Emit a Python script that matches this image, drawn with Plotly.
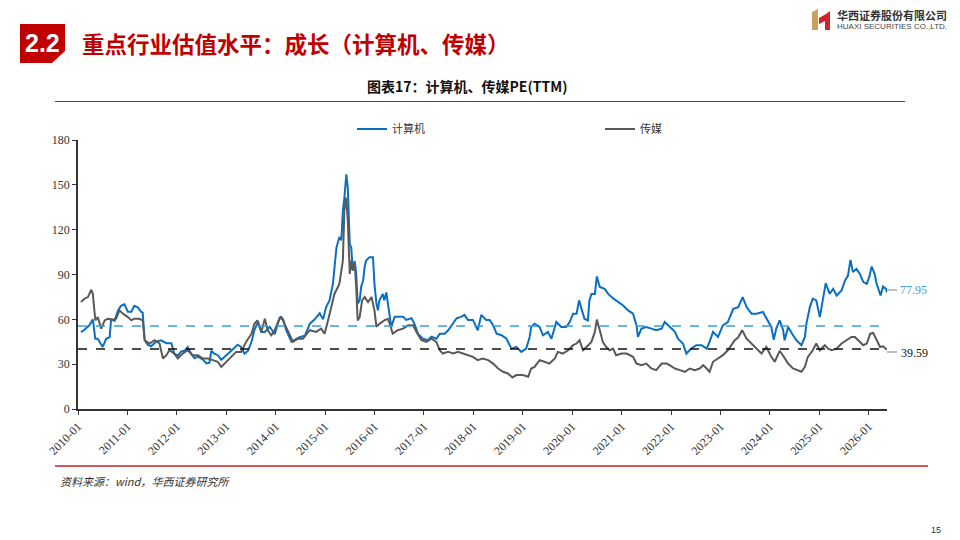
import datetime as dt
import plotly.graph_objects as go

# ---------------- data ----------------
# time as decimal years
comp_t = [2010.06, 2010.13, 2010.23, 2010.30, 2010.35, 2010.40, 2010.50, 2010.57, 2010.64, 2010.67,
          2010.74, 2010.81, 2010.87, 2010.94, 2011.01, 2011.08, 2011.14, 2011.21, 2011.28, 2011.31,
          2011.35, 2011.41, 2011.48, 2011.58, 2011.68, 2011.79, 2011.89, 2011.95, 2012.02, 2012.09,
          2012.16, 2012.22, 2012.29, 2012.36, 2012.43, 2012.53, 2012.60, 2012.66, 2012.70, 2012.76,
          2012.83, 2012.90, 2012.97, 2013.03, 2013.10, 2013.17, 2013.23, 2013.30, 2013.37, 2013.44,
          2013.51, 2013.57, 2013.64, 2013.71, 2013.78, 2013.88, 2013.98, 2014.08, 2014.15, 2014.21,
          2014.32, 2014.42, 2014.48, 2014.59, 2014.69, 2014.79, 2014.89, 2014.96, 2015.02, 2015.09,
          2015.16, 2015.23, 2015.26, 2015.29, 2015.33, 2015.36, 2015.39, 2015.43, 2015.46, 2015.50,
          2015.53, 2015.56, 2015.60, 2015.63, 2015.66, 2015.70, 2015.73, 2015.77, 2015.80, 2015.83,
          2015.90, 2015.97, 2016.00, 2016.04, 2016.07, 2016.10, 2016.17, 2016.20, 2016.24, 2016.27,
          2016.31, 2016.34, 2016.41, 2016.47, 2016.58, 2016.64, 2016.75, 2016.81, 2016.88, 2016.98,
          2017.08, 2017.15, 2017.25, 2017.32, 2017.42, 2017.49, 2017.59, 2017.66, 2017.76, 2017.82,
          2017.89, 2017.99, 2018.09, 2018.16, 2018.26, 2018.33, 2018.40, 2018.47, 2018.57, 2018.67,
          2018.77, 2018.87, 2018.97, 2019.07, 2019.14, 2019.17, 2019.24, 2019.34, 2019.41, 2019.51,
          2019.58, 2019.68, 2019.78, 2019.88, 2019.95, 2020.02, 2020.09, 2020.14, 2020.19, 2020.25,
          2020.32, 2020.35, 2020.39, 2020.46, 2020.50, 2020.56, 2020.66, 2020.73, 2020.83, 2020.93,
          2021.03, 2021.13, 2021.23, 2021.30, 2021.33, 2021.40, 2021.50, 2021.60, 2021.70, 2021.81,
          2021.87, 2021.94, 2022.01, 2022.08, 2022.14, 2022.24, 2022.31, 2022.41, 2022.51, 2022.62,
          2022.72, 2022.78, 2022.85, 2022.95, 2023.05, 2023.15, 2023.26, 2023.36, 2023.45, 2023.53,
          2023.63, 2023.73, 2023.86, 2023.96, 2024.03, 2024.08, 2024.13, 2024.20, 2024.27, 2024.30,
          2024.37, 2024.47, 2024.54, 2024.64, 2024.71, 2024.74, 2024.81, 2024.87, 2024.94, 2025.01,
          2025.08, 2025.13, 2025.21, 2025.28, 2025.35, 2025.45, 2025.52, 2025.58, 2025.63, 2025.68,
          2025.75, 2025.82, 2025.89, 2025.96, 2026.01, 2026.06, 2026.12, 2026.16, 2026.24, 2026.29,
          2026.35, 2026.37]
comp_pe = [51.5, 53, 56, 60, 47, 47, 41.5, 47, 48, 60,
           59, 66, 69, 70, 65, 65, 69, 68, 65, 64.5,
           46, 43, 42, 45, 46, 44, 44, 37, 35.5, 38.5,
           39, 41.5, 37, 34, 35, 33, 30.5, 31, 39, 37,
           36, 33, 35, 37, 39, 41.5, 43, 41.5, 37, 39,
           45, 53, 58, 51.5, 51.5, 55, 50, 61, 60, 53,
           45, 47, 48, 49, 57, 60, 64, 60, 68, 72.7,
           84, 108, 111, 115, 113, 132.7, 141, 157, 148, 110.4,
           108, 92.7, 99, 90.4, 70.6, 72.7, 81.6, 86, 94.9, 99.3,
           101.6, 101.6, 83.8, 70.6, 66, 72.7, 77, 72.7, 78, 70.6,
           61.8, 55, 61.8, 61.8, 61.8, 59.6, 60.7, 57, 50.4, 47,
           46, 48.4, 47, 50.4, 50.4, 52.7, 57, 60.7, 61.8, 63,
           59.6, 59.6, 52.7, 63, 59.6, 59.6, 56, 50.4, 49.4, 47,
           40.4, 41.6, 38.2, 40.4, 48.2, 54.9, 57, 54.9, 49.3, 51.6,
           47, 58.2, 54.9, 54.9, 58.2, 63.8, 63.8, 72.7, 67, 60.4,
           59.3, 72.7, 77, 77, 88.7, 81.6, 80.4, 77, 74, 71.6,
           69.3, 66, 63.8, 56, 48.2, 53.8, 54.9, 53.8, 52.7, 53.8,
           58.2, 56, 53.8, 51.6, 47, 43.8, 37.1, 40.4, 42.7, 42.7,
           40.4, 44.9, 51.6, 48.2, 56, 58.2, 67, 68.2, 74.9, 68.2,
           63.8, 63.8, 64.9, 59.3, 54.9, 46.4, 53.8, 59.3, 52.7, 46,
           54.9, 49.3, 46, 42.7, 48.2, 57, 68.2, 73.8, 72.7, 61.5,
           73.8, 84.2, 77.1, 80.4, 75.9, 79.3, 86, 89.3, 99.8, 91.6,
           93.8, 90.4, 84.9, 83.8, 88.2, 95.3, 90.4, 83.8, 76, 82,
           80.4, 77.95]

media_t = [2010.06, 2010.13, 2010.20, 2010.27, 2010.30, 2010.35, 2010.40, 2010.47, 2010.54, 2010.60,
           2010.70, 2010.77, 2010.84, 2010.91, 2011.01, 2011.08, 2011.14, 2011.24, 2011.31, 2011.35,
           2011.45, 2011.55, 2011.65, 2011.72, 2011.79, 2011.85, 2011.95, 2012.02, 2012.12, 2012.22,
           2012.32, 2012.43, 2012.53, 2012.63, 2012.73, 2012.83, 2012.90, 2013.00, 2013.10, 2013.20,
           2013.30, 2013.40, 2013.51, 2013.57, 2013.63, 2013.71, 2013.78, 2013.84, 2013.91, 2013.98,
           2014.06, 2014.11, 2014.18, 2014.25, 2014.35, 2014.45, 2014.55, 2014.69, 2014.82, 2014.92,
           2014.99, 2015.06, 2015.13, 2015.19, 2015.26, 2015.29, 2015.36, 2015.39, 2015.43, 2015.46,
           2015.50, 2015.53, 2015.56, 2015.60, 2015.63, 2015.66, 2015.70, 2015.75, 2015.80, 2015.87,
           2015.94, 2016.00, 2016.04, 2016.10, 2016.20, 2016.27, 2016.31, 2016.37, 2016.47, 2016.58,
           2016.68, 2016.78, 2016.85, 2016.95, 2017.05, 2017.15, 2017.25, 2017.32, 2017.38, 2017.49,
           2017.59, 2017.69, 2017.79, 2017.89, 2017.99, 2018.09, 2018.19, 2018.30, 2018.40, 2018.50,
           2018.60, 2018.70, 2018.79, 2018.87, 2019.00, 2019.11, 2019.17, 2019.24, 2019.34, 2019.44,
           2019.54, 2019.65, 2019.71, 2019.81, 2019.92, 2020.02, 2020.09, 2020.15, 2020.22, 2020.29,
           2020.39, 2020.46, 2020.50, 2020.56, 2020.62, 2020.69, 2020.76, 2020.83, 2020.89, 2021.00,
           2021.10, 2021.23, 2021.30, 2021.40, 2021.50, 2021.60, 2021.70, 2021.81, 2021.91, 2021.97,
           2022.08, 2022.18, 2022.28, 2022.38, 2022.48, 2022.58, 2022.65, 2022.72, 2022.78, 2022.85,
           2022.95, 2023.05, 2023.15, 2023.22, 2023.29, 2023.36, 2023.44, 2023.53, 2023.63, 2023.73,
           2023.83, 2023.93, 2024.03, 2024.10, 2024.20, 2024.27, 2024.37, 2024.47, 2024.57, 2024.64,
           2024.71, 2024.77, 2024.87, 2024.94, 2025.01, 2025.11, 2025.18, 2025.25, 2025.35, 2025.45,
           2025.55, 2025.65, 2025.72, 2025.79, 2025.89, 2025.96, 2026.03, 2026.09, 2026.16, 2026.23,
           2026.29, 2026.37]
media_pe = [71.6, 73.8, 74.9, 79.8, 77, 59.3, 61.5, 53.8, 59.3, 60.4,
            59.7, 60.4, 66, 63.8, 61.5, 59.3, 60.4, 60.4, 59.3, 46,
            43.8, 46, 43.8, 33.8, 36, 39.3, 37.1, 33.8, 37.1, 39.3,
            36, 36, 33.8, 33.8, 32.7, 31.6, 28.2, 31.6, 34.9, 38.2,
            38.2, 44.9, 50.4, 57, 59.3, 51.6, 60.4, 52.7, 49.3, 52.7,
            59.3, 62, 57, 51.6, 44.9, 47, 47, 52.7, 51.6, 53.8,
            50.4, 59.3, 68.2, 77, 81.6, 83.8, 99.3, 132.7, 141.5, 126,
            90.4, 99.3, 92.7, 97, 81.6, 59.3, 61.5, 72.7, 74.9, 71.6,
            74.9, 66, 55, 57, 59.3, 60.4, 57, 50.4, 52.7, 53.8,
            56, 56, 51.6, 46, 44.9, 47, 44.9, 39.3, 37.1, 38.2,
            37.1, 38.2, 37.1, 36, 34.9, 32.7, 33.8, 32.7, 30.4, 27.1,
            24.9, 23.8, 21.1, 22.7, 22.7, 21.6, 27.1, 28.2, 32.7, 31.6,
            30.4, 33.8, 38.2, 37.1, 39.3, 42.7, 43.8, 46, 39.3, 41.5,
            44.9, 51.6, 59.8, 52.7, 44.9, 41.5, 39.3, 40.4, 36, 37.1,
            37.1, 34.9, 30.4, 29.3, 30.4, 27.1, 26, 30.4, 30.4, 29.3,
            27.1, 26, 24.9, 27.1, 26, 27.1, 29.3, 27.1, 24.9, 31.6,
            33.8, 36, 39.3, 42.7, 46, 48, 52.7, 47, 43.8, 40.4,
            37.1, 41.5, 34.9, 31.6, 38.9, 35.6, 30.4, 27.1, 26, 24.9,
            28.2, 34.9, 39.3, 43.8, 39.3, 42.7, 40.4, 39.3, 40.4, 43.8,
            46, 48.2, 48.2, 46, 42.7, 43.8, 50.4, 50.9, 46, 41.5,
            42, 39.59]

comp_mean = 55.5
media_mean = 40.2
comp_last_label = "77.95"
media_last_label = "39.59"
series_names = ["计算机", "传媒"]
year_ticks = list(range(2010, 2027))
y_ticks = [0, 30, 60, 90, 120, 150, 180]

# ---------------- helpers ----------------
def to_date(t):
    y = int(t)
    return dt.datetime(y, 1, 1) + dt.timedelta(days=(t - y) * 365.25)

W, H = 960, 540
L, R, T, B = 78, 887, 140, 409   # plot area in pixels
def px(x):
    return (x - L) / (R - L)
def py(y):
    return (B - y) / (B - T)

BLUE = "#0B6FC1"
GRAY = "#595959"
LBLUE = "#3D9BE0"
RED = "#C00000"
SERIF = "Liberation Serif, Times New Roman, serif"
CJK = "Noto Sans CJK SC, sans-serif"

fig = go.Figure()
fig.add_trace(go.Scatter(x=[to_date(t) for t in comp_t], y=comp_pe, mode="lines",
                         name=series_names[0], line=dict(color=BLUE, width=2),
                         showlegend=True, legend="legend"))
fig.add_trace(go.Scatter(x=[to_date(t) for t in media_t], y=media_pe, mode="lines",
                         name=series_names[1], line=dict(color=GRAY, width=2),
                         showlegend=True, legend="legend2"))

shapes = []
# mean lines
shapes.append(dict(type="line", xref="paper", yref="y", x0=0, x1=1, y0=comp_mean, y1=comp_mean,
                   line=dict(color=LBLUE, width=1.5, dash="dash")))
shapes.append(dict(type="line", xref="paper", yref="y", x0=0, x1=1, y0=media_mean, y1=media_mean,
                   line=dict(color="#111111", width=1.5, dash="dash")))
# label connectors
shapes.append(dict(type="line", xref="paper", yref="paper", x0=px(887), x1=px(897), y0=py(290), y1=py(290),
                   line=dict(color="#AAAAAA", width=1.5)))
shapes.append(dict(type="line", xref="paper", yref="paper", x0=px(887), x1=px(897), y0=py(352), y1=py(352),
                   line=dict(color="#AAAAAA", width=1.5)))
# header box with cut corner
def path(pts):
    s = "M " + " L ".join(f"{px(x)},{py(y)}" for x, y in pts) + " Z"
    return s
shapes.append(dict(type="path", xref="paper", yref="paper",
                   path=path([(20, 24), (65, 24), (65, 51), (52, 63), (20, 63)]),
                   fillcolor=RED, line=dict(width=0)))
# line under subtitle
shapes.append(dict(type="line", xref="paper", yref="paper", x0=px(55), x1=px(905), y0=py(101.5), y1=py(101.5),
                   line=dict(color="#A3282C", width=1.2)))
# bottom red line
shapes.append(dict(type="line", xref="paper", yref="paper", x0=px(55), x1=px(928), y0=py(466), y1=py(466),
                   line=dict(color="#D05A5A", width=2)))
# logo icon
shapes.append(dict(type="path", xref="paper", yref="paper",
                   path=path([(812, 12), (818, 9), (818, 30), (812, 30)]),
                   fillcolor="#C9A25E", line=dict(width=0)))
shapes.append(dict(type="path", xref="paper", yref="paper",
                   path=path([(819, 18), (826, 14), (830, 11), (830, 30), (825, 30), (825, 21), (819, 24)]),
                   fillcolor="#D2232A", line=dict(width=0)))

ann = []
def text(x, y, s, size, color, family=CJK, xanchor="left", yanchor="middle", bold=False, italic=False):
    if bold:
        s = f"<b>{s}</b>"
    if italic:
        s = f"<i>{s}</i>"
    ann.append(dict(xref="paper", yref="paper", x=px(x), y=py(y), text=s, showarrow=False,
                    xanchor=xanchor, yanchor=yanchor,
                    font=dict(size=size, color=color, family=family)))

text(42.5, 43, "2.2", 25, "white", family="Liberation Sans, Arial, sans-serif", xanchor="center", bold=True)
text(80, 43, "重点行业估值水平：成长（计算机、传媒）", 22.5, RED, bold=True)
text(467, 86, "图表17：计算机、传媒PE(TTM)", 14, "#111111", xanchor="center", bold=True)
text(835, 14.5, "华西证券股份有限公司", 11, "#333333", bold=True)
text(835, 26.5, "HUAXI SECURITIES CO.,LTD.", 8, "#444444", family="Liberation Sans, Arial, sans-serif")
text(58, 481, "资料来源：wind，华西证券研究所", 11, "#333333", italic=True)
text(936, 530, "15", 9, "#333333", family="Liberation Sans, Arial, sans-serif", xanchor="center")
text(898, 290, comp_last_label, 12, LBLUE, family=SERIF)
text(899, 353, media_last_label, 12, "#111111", family=SERIF)

leg_common = dict(xanchor="left", yanchor="middle", orientation="h",
                  font=dict(size=11, family=CJK, color="#333333"), bgcolor="rgba(0,0,0,0)")
fig.update_layout(
    width=W, height=H, showlegend=True,
    margin=dict(l=L, r=W - R, t=T, b=H - B, pad=0),
    paper_bgcolor="white", plot_bgcolor="white",
    shapes=shapes, annotations=ann,
    legend=dict(x=px(352), y=py(129), **leg_common),
    legend2=dict(x=px(600), y=py(129), **leg_common),
    xaxis=dict(type="date", range=[to_date(2010.0), to_date(2026.37)],
               tickvals=[dt.datetime(y, 1, 1) for y in year_ticks],
               ticktext=[f"{y}-01" for y in year_ticks],
               tickangle=-45, ticks="outside", ticklen=4, tickcolor="#333333",
               showline=True, linecolor="#333333", linewidth=1.5, showgrid=False, zeroline=False,
               tickfont=dict(family=SERIF, size=12, color="#333333")),
    yaxis=dict(range=[0, 180], tickvals=y_ticks, ticks="outside", ticklen=4, tickcolor="#333333",
               showline=True, linecolor="#333333", linewidth=1.5, showgrid=False, zeroline=False,
               tickfont=dict(family=SERIF, size=12, color="#333333")),
)

fig.write_html("out.html")
